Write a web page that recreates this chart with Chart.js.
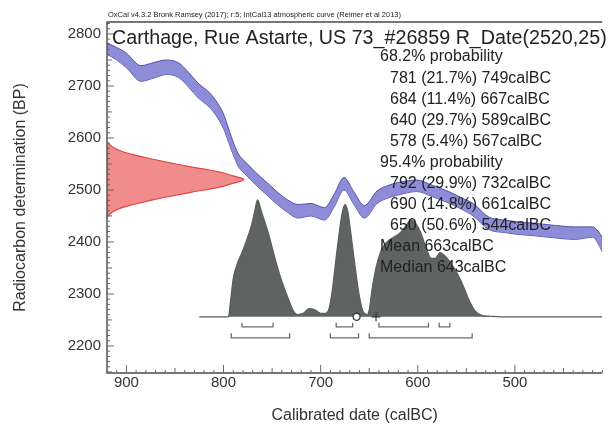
<!DOCTYPE html>
<html lang="en">
<head>
<meta charset="UTF-8">
<title>Carthage, Rue Astarte, US 73 - calibration</title>
<script src="https://cdn.jsdelivr.net/npm/chart.js"></script>
<style>
  html, body { margin: 0; padding: 0; background: #fff; }
  .wrap { width: 608px; height: 427px; }
</style>
</head>
<body>
<div class="wrap"><canvas id="calChart" width="608" height="427"></canvas></div>
<script>
// IntCal13 curve (calBC, BP, half width)
const curveCal = [920, 910, 900, 885, 872, 859, 846, 836, 826, 815, 808, 800, 795, 789, 784, 778, 767, 757, 747, 735, 723, 710, 696, 686, 676, 666, 655, 642, 630, 621, 601, 585, 567, 555, 543, 527, 510, 499, 480, 465, 438, 420, 414, 410];
const curveBP  = [2772, 2762, 2749, 2724, 2730, 2736, 2730, 2712, 2691, 2674, 2658, 2632, 2606, 2575, 2555, 2543, 2522, 2505, 2488, 2470, 2459, 2462, 2454, 2480, 2512, 2485, 2458, 2486, 2497, 2502, 2508, 2498, 2485, 2474, 2462, 2436, 2430, 2427, 2424, 2421, 2417, 2419, 2408, 2395];
const curveErr = [11, 12, 14, 15, 15, 14, 14, 14, 14, 14, 14, 14, 13, 12, 12, 12, 12, 12, 12, 12, 13, 12, 12, 12, 12, 12, 12, 12, 12, 12, 11, 11, 11, 11, 12, 12, 12, 12, 12, 12, 12, 10, 12, 14];

// R_Date(2520,25) curve on the BP axis: BP and its reach in years from the left axis
const dateBP    = [2592, 2582, 2575, 2568, 2560, 2554, 2545, 2535, 2527, 2520, 2513, 2505, 2495, 2486, 2480, 2472, 2465, 2458, 2448];
const dateWidth = [0, 6, 14, 27, 45, 60, 85, 115, 130, 141, 130, 115, 85, 60, 45, 27, 14, 6, 0];

// calibrated distribution (relative probability)
const distCal = [825, 800, 795, 793, 790, 786, 781, 776, 771, 768, 765, 761, 754, 747, 741, 734, 728, 724, 718, 712, 706, 700, 695, 691, 688, 683, 678, 675, 672, 669, 665, 660, 656, 652, 650, 647, 643, 638, 633, 625, 618, 612, 607, 602, 597, 591, 586, 582, 577, 572, 566, 560, 553, 547, 541, 535, 525, 515, 410];
const distP   = [0, 0, 0, 0.12, 0.33, 0.45, 0.55, 0.66, 0.79, 0.9, 1.0, 0.9, 0.72, 0.5, 0.33, 0.17, 0.05, 0.02, 0.03, 0.07, 0.06, 0.03, 0.03, 0.08, 0.23, 0.58, 0.88, 0.96, 0.9, 0.72, 0.46, 0.17, 0.04, 0.02, 0.06, 0.24, 0.42, 0.56, 0.63, 0.68, 0.72, 0.78, 0.83, 0.8, 0.72, 0.58, 0.5, 0.5, 0.55, 0.52, 0.46, 0.38, 0.26, 0.14, 0.05, 0.015, 0.005, 0, 0];

// ranges
const range68From = [781, 684, 640, 578];
const range68To   = [749, 667, 589, 567];
const range95From = [792, 690, 650];
const range95To   = [732, 661, 544];
const meanCal = 663;
const medianCal = 643;

const xTicks = [900, 800, 700, 600, 500];
const yTicks = [2200, 2300, 2400, 2500, 2600, 2700, 2800];

const headerText = 'OxCal v4.3.2 Bronk Ramsey (2017); r:5; IntCal13 atmospheric curve (Reimer et al 2013)';
const titleText = 'Carthage, Rue Astarte, US 73_#26859 R_Date(2520,25)';
const probLines = [
  ['68.2% probability', 0],
  ['781 (21.7%) 749calBC', 1],
  ['684 (11.4%) 667calBC', 1],
  ['640 (29.7%) 589calBC', 1],
  ['578 (5.4%) 567calBC', 1],
  ['95.4% probability', 0],
  ['792 (29.9%) 732calBC', 1],
  ['690 (14.8%) 661calBC', 1],
  ['650 (50.6%) 544calBC', 1],
  ['Mean 663calBC', 0],
  ['Median 643calBC', 0]
];

const FONT = '"Liberation Sans", Arial, sans-serif';
const X_EDGE = 920;

function bracket(from, to, level, hook) {
  const pts = [];
  from.forEach((f, i) => {
    pts.push({x: f, y: level + hook}, {x: f, y: level}, {x: to[i], y: level},
             {x: to[i], y: level + hook}, {x: to[i], y: null});
  });
  return pts;
}

const upper = curveCal.map((c, i) => ({x: c, y: curveBP[i] + curveErr[i]}));
const lower = curveCal.map((c, i) => ({x: c, y: curveBP[i] - curveErr[i]}));
const datePts = dateBP.map((b, i) => ({x: X_EDGE - dateWidth[i], y: b}));
const distPts = distCal.map((c, i) => ({x: c, y: distP[i]}));

// frame + inward ticks
const frameTicks = {
  id: 'frameTicks',
  afterDatasetsDraw(chart) {
    const {ctx, chartArea: a, scales} = chart;
    ctx.save();
    ctx.strokeStyle = '#4a4a4a';
    ctx.lineWidth = 1.4;
    ctx.beginPath();
    ctx.moveTo(a.right, a.top); ctx.lineTo(a.left, a.top);
    ctx.lineTo(a.left, a.bottom); ctx.lineTo(a.right, a.bottom);
    ctx.stroke();
    ctx.lineWidth = 1;
    ctx.strokeStyle = '#666';
    ctx.beginPath();
    for (let v = 410; v <= 920; v += 10) {
      const px = scales.x.getPixelForValue(v);
      const len = v % 100 === 0 ? 8 : (v % 50 === 0 ? 5 : 3);
      ctx.moveTo(px, a.bottom); ctx.lineTo(px, a.bottom - len);
    }
    for (let v = 2150; v <= 2820; v += 10) {
      const py = scales.y.getPixelForValue(v);
      const len = v % 100 === 0 ? 7 : (v % 50 === 0 ? 5 : 3);
      ctx.moveTo(a.left, py); ctx.lineTo(a.left + len, py);
    }
    ctx.stroke();
    ctx.restore();
  }
};

const textLayer = {
  id: 'textLayer',
  afterDraw(chart) {
    const {ctx, chartArea: a} = chart;
    ctx.save();
    ctx.fillStyle = '#222';
    ctx.textBaseline = 'middle';
    ctx.font = '7.5px ' + FONT;
    ctx.fillText(headerText, a.left + 1, 15);
    ctx.font = '19.7px ' + FONT;
    ctx.fillText(titleText, a.left + 5, 39);
    ctx.font = '16px ' + FONT;
    probLines.forEach((ln, i) => {
      ctx.fillText(ln[0], ln[1] ? 390 : 380, 57 + i * 21.1);
    });
    ctx.restore();
  }
};

new Chart(document.getElementById('calChart'), {
  type: 'line',
  data: {
    datasets: [
      { label: 'mean', type: 'scatter', yAxisID: 'yp', data: [{x: meanCal, y: 0}],
        pointStyle: 'circle', pointRadius: 3.5, pointBackgroundColor: '#fff',
        pointBorderColor: '#333', pointBorderWidth: 1.2 },
      { label: 'median', type: 'scatter', yAxisID: 'yp', data: [{x: medianCal, y: 0}],
        pointStyle: 'cross', pointRadius: 4.5, pointBorderColor: '#333', pointBorderWidth: 1.2 },
      { label: '68.2%', yAxisID: 'yp', data: bracket(range68From, range68To, -0.085, 0.035),
        borderColor: '#6a6a6a', borderWidth: 1.3, pointRadius: 0, spanGaps: false, fill: false },
      { label: '95.4%', yAxisID: 'yp', data: bracket(range95From, range95To, -0.18, 0.04),
        borderColor: '#6a6a6a', borderWidth: 1.3, pointRadius: 0, spanGaps: false, fill: false },
      { label: 'IntCal13 upper', data: upper, borderColor: '#5252ac', borderWidth: 1,
        backgroundColor: 'rgba(124,124,210,0.88)', fill: '+1', pointRadius: 0,
        cubicInterpolationMode: 'monotone' },
      { label: 'IntCal13 lower', data: lower, borderColor: '#5252ac', borderWidth: 1,
        fill: false, pointRadius: 0, cubicInterpolationMode: 'monotone' },
      { label: 'R_Date', indexAxis: 'y', data: datePts, borderColor: '#e04545', borderWidth: 1.2,
        backgroundColor: 'rgba(240,128,128,0.9)', fill: {value: X_EDGE}, pointRadius: 0, tension: 0.4 },
      { label: 'posterior', yAxisID: 'yp', data: distPts, borderColor: '#5a5e5e', borderWidth: 1.2,
        backgroundColor: '#5f6463', fill: 'origin', pointRadius: 0, cubicInterpolationMode: 'monotone' }
    ]
  },
  options: {
    responsive: false,
    animation: false,
    layout: { padding: { top: 22, right: 0, bottom: 0, left: 0 } },
    plugins: { legend: { display: false }, tooltip: { enabled: false } },
    scales: {
      x: {
        type: 'linear', reverse: true, min: 410, max: 920,
        afterFit: s => { s.height = 54; },
        afterBuildTicks: s => { s.ticks = xTicks.map(v => ({value: v})); },
        grid: { display: false, drawTicks: false },
        border: { display: false },
        ticks: { font: { family: FONT, size: 15 }, color: '#333', padding: 1, maxRotation: 0,
                 autoSkip: false, callback: v => String(v) },
        title: { display: true, text: 'Calibrated date (calBC)', font: { family: FONT, size: 16 },
                 color: '#333', padding: { top: 0, bottom: 2 } }
      },
      y: {
        type: 'linear', min: 2148, max: 2823,
        afterFit: s => { s.width = 107; },
        afterBuildTicks: s => { s.ticks = yTicks.map(v => ({value: v})); },
        grid: { display: false, drawTicks: false },
        border: { display: false },
        ticks: { font: { family: FONT, size: 15 }, color: '#333', padding: 6, callback: v => String(v) },
        title: { display: true, text: 'Radiocarbon determination (BP)', font: { family: FONT, size: 16 },
                 color: '#333', padding: { top: 11, bottom: 0 } }
      },
      yp: { type: 'linear', display: false, min: -0.48, max: 2.52 }
    }
  },
  plugins: [frameTicks, textLayer]
});
</script>
</body>
</html>
